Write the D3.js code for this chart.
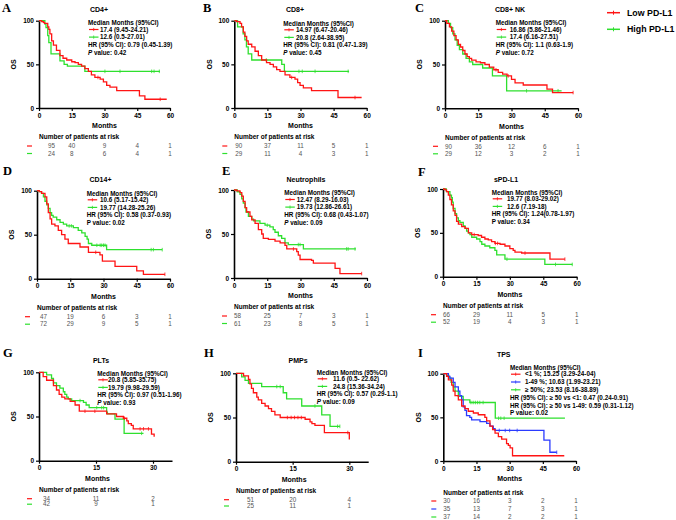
<!DOCTYPE html>
<head>
<meta charset="utf-8">
<script src="https://cdnjs.cloudflare.com/ajax/libs/d3/7.8.5/d3.min.js"></script>
<style>
body { margin:0; background:#fff; }
svg { display:block; font-family:"Liberation Sans", Arial, sans-serif; }
</style>
</head>
<body>
<svg width="676" height="520"></svg>
<script>
// KM step points [month, % surviving], plus censor times
var A_low  = [[0,100],[1.2,99],[2,98],[2.5,97],[4,93],[4.5,90],[5,85],[5.8,77],[6.6,72],[8,66],[9.6,60],[11,57],[12.7,55],[15,53],[16.5,52],[18,50],[19.5,48],[21,45],[22.6,42],[24,38],[25.6,35],[28,33],[29.5,30],[31,26],[32.5,24],[35.6,20],[46,14],[48.5,10],[58.5,10]];
var A_lowC = [27,55.5];
var A_high = [[0,100],[2.7,96],[3.2,92],[4,83],[4.5,75],[5.5,62],[9.6,54],[11.5,50],[13,48],[21,42],[55.4,42]];
var A_highC = [30.2,37.1,51.6,52.7,55.1];

var B_low  = [[0,100],[1,99],[2.6,97],[3.3,93],[4.1,87],[4.8,82],[5.6,77],[6.3,73],[7.9,70],[9.4,65],[10.9,60],[12.4,55],[14.6,52],[16.2,50],[17.7,47],[19.2,44],[20.7,42],[23,38],[25.2,35],[27.5,33],[28.7,29],[29.8,26],[31.3,23],[35,20],[47,12],[57.7,12]];
var B_lowC = [26,54.7];
var B_high = [[0,100],[1.5,93],[4,85],[4.8,78],[5.5,70],[6.3,62],[7.9,55],[21.5,50],[22.7,42],[52,42]];
var B_highC = [14.5,29.3,30.8,36.6,51.6];

var C_low  = [[0,100],[0.8,97],[2,93],[3,88],[4,83],[5,78],[6,73],[7,70],[8,66],[9,62],[10,59],[11,57],[12,55],[14,53],[16,52],[18,50],[20,47],[22,44],[24,41],[26,39],[28,37],[30,33],[31.6,29],[35.3,26.6],[46,22],[48.5,18],[57.8,18]];
var C_lowC = [23,28.5,57.8];
var C_high = [[0,100],[1.5,97],[2.5,92],[3.5,85],[4.5,78],[5.5,72],[6.5,67],[8,62],[9.5,57],[11,53],[12.5,50],[17,46],[21.4,37],[27.8,20],[52.6,20]];
var C_highC = [36.8,51];

var D_low  = [[0,100],[1,99],[2.1,97],[3.6,93],[4.4,85],[5.1,75],[5.9,68],[6.6,62],[8.1,60],[9.6,55],[11.1,50],[12.6,45],[14.1,40],[19.4,36],[23.2,30],[28.4,27],[29.5,20],[35.2,14],[45,9],[48,5],[57.7,5]];
var D_lowC = [26.5,57.7];
var D_high = [[0,100],[1,99],[2,97],[2.9,93],[3.6,88],[4.4,84],[5.1,80],[5.9,75],[6.6,72],[7.3,70],[8.9,67],[10.4,64],[11.9,62],[13.4,60],[16.4,58],[18.6,55],[20.2,52],[21.7,48],[22.6,45],[23.2,40],[24.7,38],[31.4,33],[56.5,33]];
var D_highC = [14.5,15.5,27,28.5,29.2,30,30.7,51.5,52.5,56.5];

var E_low  = [[0,100],[1.2,99],[2.7,97],[3.5,93],[4.2,87],[5,80],[5.7,75],[7.2,70],[8,66],[9.5,62],[11,55],[12.5,50],[13.2,45],[15.5,44],[18.5,42],[20.8,40],[23,37],[23.8,33],[28.3,30],[29,26],[29.8,21],[35,20],[35.8,17],[45.6,11],[47.8,5],[57.6,5]];
var E_lowC = [26.8,57.6];
var E_high = [[0,100],[1.5,98],[2.7,95],[3.5,90],[4.2,85],[5,80],[5.4,75],[6.5,70],[8,67],[8.8,65],[11.7,62],[14,60],[16.2,58],[17.7,55],[18.5,52],[20,48],[21.5,45],[23,40],[24.5,38],[31.3,33],[55,33]];
var E_highC = [15,29,29.8,50.8,51.5,54.6];

var F_low  = [[0,100],[0.9,99],[1.6,97],[2.4,93],[3.1,88],[3.8,82],[4.6,75],[5.4,70],[6.1,63],[6.9,60],[8.4,57],[9.9,55],[11.4,50],[12.9,48],[15.8,47],[17.3,45],[18.8,43],[20.3,42],[21.8,40],[23.3,38],[25.6,37],[27.8,35],[30,32],[31.5,30],[32.3,28],[35.3,27],[48,20],[54.7,20]];
var F_lowC = [14,23.5,24.5,36.8,54.7];
var F_high = [[0,100],[1.5,97],[3.1,93],[3.8,90],[4.2,85],[4.6,78],[5.4,72],[6.1,67],[6.9,64],[7.6,62],[9.1,58],[9.9,55],[10.6,52],[11.4,50],[12.1,48],[12.9,45],[15.1,43],[16.6,40],[17.4,37],[18.8,35],[21,33],[23.3,30],[24.1,25],[27.8,20],[45.7,14],[58.1,14]];
var F_highC = [28.7,50.5,58];

var G_low  = [[0,100],[1.1,95],[2,91],[3.8,85],[4.6,80],[5.3,75],[6,72],[6.8,70],[8.2,67],[9.5,63],[10.6,56],[17.8,53],[20.4,50],[22.2,48],[23.1,45],[23.5,42],[24.3,40],[24.8,36],[29.6,30],[30.3,27]];
var G_lowC = [12.1,14.7,22.5,26.6,27.5,28.8];
var G_high = [[0,100],[2,97],[3.3,93],[3.8,88],[4.6,85],[5.5,82],[6.4,78],[6.8,75],[7.3,72],[7.7,70],[8.6,68],[11.7,66],[12.4,63],[13.2,60],[17.8,55],[18,53],[20,47],[22.4,31],[27.5,31]];
var G_highC = [10.8,15.2,16.5,17,27];

var H_low  = [[0,100],[2,97],[3.3,93],[3.7,88],[4.1,83],[4.6,78],[5.5,73],[5.9,70],[6.8,66],[7.7,63],[8.6,60],[9.4,57],[10.3,53],[11.7,50],[18.3,48],[19.6,45],[20.1,43],[20.9,41],[23.4,33],[30,25]];
var H_lowC = [13.6,14.6,15.5,16.4,17.3,29.6];
var H_high = [[0,100],[1.5,96],[2.4,92],[3.3,88.5],[6.8,85],[12.5,78],[13.4,71],[17.4,63],[22.7,53],[24.9,40],[27.5,40]];
var H_highC = [10.8,11.7,20.9,26.9,27.5];

var I_lt1  = [[0,100],[1.5,97],[2.3,93],[3.8,87],[4.5,80],[5.3,75],[6.8,70],[8.3,63],[9.8,60],[11.3,57],[13.6,55],[15.8,53],[18.8,50],[19.6,46],[21.1,40],[22.3,36],[23.4,32],[24.9,28],[26.4,25],[28.6,20],[29.4,18],[30.2,15],[31.3,6],[54.7,6]];
var I_lt1C = [];
var I_mid  = [[0,100],[2.3,97],[3,95],[4.5,90],[5.3,85],[6.8,80],[7.5,75],[8.3,70],[9,62],[9.8,58],[10.5,52],[12,50],[12.8,47],[16.6,45],[19.6,43],[21.1,40],[22.6,37],[23.4,35],[45.5,24],[48.2,10],[51.3,10]];
var I_midC = [25.3,28,30,33.4,51.3];
var I_ge50 = [[0,100],[1.5,98],[2.5,95],[3.5,90],[4.5,85],[5.3,80],[6.8,74],[9,70],[12,67],[23.5,49],[55,49]];
var I_ge50C = [12.5,13.5,14.5,15.5,16.5,18,25,26,27.5];

// numbers at risk
var A_risk = [[95,40,9,4,1],[24,8,6,4,1]];
var B_risk = [[90,37,11,5,1],[29,11,4,3,1]];
var C_risk = [[90,36,12,6,1],[29,12,3,2,1]];
var D_risk = [[47,19,6,3,1],[72,29,9,5,1]];
var E_risk = [[58,25,7,3,1],[61,23,8,5,1]];
var F_risk = [[66,29,11,5,1],[52,19,4,3,1]];
var G_risk = [[34,11,2],[42,9,1]];
var H_risk = [[51,20,4],[25,11,1]];
var I_risk = [[30,16,3,2,1],[35,13,7,3,1],[37,14,2,2,1]];

// annotation texts
var A_text = ["17.4 (9.45-24.21)","12.6 (0.5-27.01)","HR (95% CI): 0.79 (0.45-1.39)","0.42"];
var B_text = ["14.97 (6.47-20.46)","20.8 (2.64-38.95)","HR (95% CI): 0.81 (0.47-1.39)","0.45"];
var C_text = ["16.86  (5.86-21.46)","17.4 (6.16-27.51)","HR (95% CI): 1.1 (0.63-1.9)","0.72"];
var D_text = ["10.6 (5.17-15.42)","19.77 (14.28-25.26)","HR (95% CI): 0.58 (0.37-0.93)","0.02"];
var E_text = ["12.47 (8.29-16.03)","19.73 (12.86-26.61)","HR (95% CI): 0.68 (0.43-1.07)","0.09"];
var F_text = ["19.77 (8.03-29.02)","12.6 (7.19-18)","HR (95% CI): 1.24(0.78-1.97)","0.34"];
var G_text = ["20.8 (5.85-35.75)","19.79 (9.98-29.59)","HR (95% CI): 0.97 (0.51-1.96)","0.93"];
var H_text = ["11.6 (0.5- 22.62)","24.8  (15.36-34.24)","HR (95% CI): 0.57 (0.29-1.1)","0.09"];
var I_text = ["<1 %; 15.25 (3.29-24-04)","1-49 %; 10.63 (1.99-23.21)","\u2265 50%; 23.53 (8.16-38.89)","HR (95% CI): \u2265 50 vs <1: 0.47 (0.24-0.91)","HR (95% CI): \u2265 50 vs 1-49: 0.59 (0.31-1.12)","0.02"];

var ticks60 = [0,15,30,45,60];
var ticks30 = [0,15,30];
var legendLabels = ["Low PD-L1","High PD-L1"];

var RED = "#ff1414", GREEN = "#2ee02e", BLUE = "#2b3bff";

// layout of the 9 panels
var panels = [
  {L:"A",lx:2,ly:12,  title:"CD4+",tx:99,ty:9.5,  x0:39,x1:170,yTop:20.7,yBot:108,xMax:60,ticks:ticks60, ax:88,ay:23,toff:12,  rOff:9,
   curves:[[A_low,A_lowC,RED],[A_high,A_highC,GREEN]], risk:A_risk, text:A_text, pItal:true, nLeg:2},
  {L:"B",lx:203,ly:12,title:"CD8+",tx:295,ty:9.5, x0:234.3,x1:366.7,yTop:20.7,yBot:108,xMax:60,ticks:ticks60, ax:283.3,ay:23.3,toff:12.7, rOff:1,
   curves:[[B_low,B_lowC,RED],[B_high,B_highC,GREEN]], risk:B_risk, text:B_text, pItal:true, nLeg:2},
  {L:"C",lx:415,ly:12,title:"CD8+ NK",tx:510,ty:9.5, x0:445,x1:578,yTop:20.7,yBot:108.3,xMax:60,ticks:ticks60, ax:495.7,ay:23,toff:14, rOff:0,
   curves:[[C_low,C_lowC,RED],[C_high,C_highC,GREEN]], risk:C_risk, text:C_text, pItal:true, nLeg:2},
  {L:"D",lx:3,ly:175, title:"CD14+",tx:100.5,ty:180, x0:37,x1:170,yTop:190.7,yBot:278.7,xMax:60,ticks:ticks60, ax:86.7,ay:193.3,toff:13.3, rOff:3,
   curves:[[D_low,D_lowC,RED],[D_high,D_highC,GREEN]], risk:D_risk, text:D_text, pItal:false, nLeg:2},
  {L:"E",lx:222,ly:175,title:"Neutrophils",tx:306,ty:180, x0:234,x1:367,yTop:190,yBot:278,xMax:60,ticks:ticks60, ax:284.3,ay:193,toff:12.4, rOff:0,
   curves:[[E_low,E_lowC,RED],[E_high,E_highC,GREEN]], risk:E_risk, text:E_text, pItal:true, nLeg:2},
  {L:"F",lx:418,ly:176,title:"sPD-L1",tx:506,ty:180, x0:443,x1:576.7,yTop:189,yBot:276.7,xMax:60,ticks:ticks60, ax:491.7,ay:192.3,toff:15.3, rOff:0,
   curves:[[F_low,F_lowC,RED],[F_high,F_highC,GREEN]], risk:F_risk, text:F_text, pItal:false, nLeg:2},
  {L:"G",lx:3,ly:357, title:"PLTs",tx:101,ty:360.7, x0:39,x1:172,yTop:372.3,yBot:460.7,xMax:35,ticks:ticks30, ax:97.3,ay:373.3,toff:10.7, rOff:4, rGap:5.5,
   curves:[[G_low,G_lowC,RED],[G_high,G_highC,GREEN]], risk:G_risk, text:G_text, pItal:true, nLeg:2},
  {L:"H",lx:204,ly:357,title:"PMPs",tx:298,ty:360.7, x0:236,x1:368.2,yTop:373.3,yBot:461.7,xMax:35,ticks:ticks30, ax:316.7,ay:372.3,toff:16.3, rOff:11, rGap:6.3,
   curves:[[H_low,H_lowC,RED],[H_high,H_highC,GREEN]], risk:H_risk, text:H_text, pItal:true, nLeg:2},
  {L:"I",lx:418,ly:357,title:"TPS",tx:503.7,ty:355, x0:443.3,x1:576,yTop:373.7,yBot:461,xMax:60,ticks:ticks60, ax:510,ay:367.7,toff:15, rOff:0, rGap:8, aRow:7.8, rTitle:31.7, rRow0:40,
   curves:[[I_lt1,I_lt1C,RED],[I_mid,I_midC,BLUE],[I_ge50,I_ge50C,GREEN]], risk:I_risk, text:I_text, pItal:false, nLeg:3}
];

var svg = d3.select("svg");

function survAt(pts, t){
  var s = pts[0][1];
  pts.forEach(function(d){ if (d[0] <= t) s = d[1]; });
  return s;
}

function drawPanel(p){
  var x = d3.scaleLinear().domain([0, p.xMax]).range([p.x0, p.x1]);
  var y = d3.scaleLinear().domain([0, 100]).range([p.yBot, p.yTop]);
  var g = svg.append("g");

  g.append("text").attr("x", p.lx).attr("y", p.ly)
    .attr("font-family", "'Liberation Serif', 'Times New Roman', serif")
    .attr("font-weight", "bold").attr("font-size", 12.5).text(p.L);

  g.append("text").attr("x", p.tx).attr("y", p.ty).attr("dy", "0.35em")
    .attr("text-anchor", "middle").attr("font-weight", "bold").attr("font-size", 7).text(p.title);

  var ax = g.append("g").attr("transform", "translate(0," + p.yBot + ")")
    .call(d3.axisBottom(x).tickValues(p.ticks).tickSize(3).tickSizeOuter(0).tickPadding(2));
  var ay = g.append("g").attr("transform", "translate(" + p.x0 + ",0)")
    .call(d3.axisLeft(y).tickValues([0, 50, 100]).tickSize(3).tickSizeOuter(0).tickPadding(2));
  [ax, ay].forEach(function(a){
    a.attr("font-family", null).attr("font-size", 6.5).attr("font-weight", "bold");
    a.select(".domain").attr("stroke-width", 1.6);
    a.selectAll(".tick line").attr("stroke-width", 1.2);
    a.selectAll(".tick text").attr("fill", "#000");
  });

  g.append("text")
    .attr("transform", "translate(" + (p.x0 - 25) + "," + ((p.yTop + p.yBot) / 2) + ") rotate(-90)")
    .attr("text-anchor", "middle").attr("dy", "0.35em")
    .attr("font-weight", "bold").attr("font-size", 7).text("OS");

  g.append("text").attr("x", (p.x0 + p.x1) / 2 - (p.xMax < 60 ? 8 : 0)).attr("y", p.yBot + 18).attr("dy", "0.35em")
    .attr("text-anchor", "middle").attr("font-weight", "bold").attr("font-size", 7).text("Months");

  // curves (last group drawn first so red sits on top)
  var line = d3.line().x(function(d){ return x(d[0]); }).y(function(d){ return y(d[1]); }).curve(d3.curveStepAfter);
  p.curves.slice().reverse().forEach(function(c){
    var pts = c[0], cens = c[1], col = c[2];
    g.append("path").attr("d", line(pts)).attr("fill", "none")
      .attr("stroke", col).attr("stroke-width", 1.3);
    g.selectAll(null).data(cens).enter().append("line")
      .attr("x1", function(t){ return x(t); }).attr("x2", function(t){ return x(t); })
      .attr("y1", function(t){ return y(survAt(pts, t)) - 1.8; })
      .attr("y2", function(t){ return y(survAt(pts, t)) + 1.8; })
      .attr("stroke", col).attr("stroke-width", 0.8);
  });

  // median / HR block
  var aRow = p.aRow || 7.6;
  var a = g.append("g").attr("font-size", 6.3).attr("font-weight", "bold");
  a.append("text").attr("x", p.ax).attr("y", p.ay).attr("dy", "0.35em").text("Median Months (95%CI)");
  p.text.forEach(function(t, i){
    var yy = p.ay + 6.5 + i * aRow;
    if (i < p.nLeg) {
      var col = p.curves[i][2];
      a.append("line").attr("x1", p.ax + 1).attr("x2", p.ax + 10.5).attr("y1", yy).attr("y2", yy)
        .attr("stroke", col).attr("stroke-width", 1.2);
      a.append("line").attr("x1", p.ax + 5.7).attr("x2", p.ax + 5.7).attr("y1", yy - 1.6).attr("y2", yy + 1.6)
        .attr("stroke", col).attr("stroke-width", 0.8);
      a.append("text").attr("x", p.ax + p.toff).attr("y", yy).attr("dy", "0.35em").text(t);
    } else if (i < p.text.length - 1) {
      a.append("text").attr("x", p.ax).attr("y", yy).attr("dy", "0.35em").text(t);
    } else {
      var pt = a.append("text").attr("x", p.ax).attr("y", yy).attr("dy", "0.35em");
      pt.append("tspan").attr("font-style", p.pItal ? "italic" : null).text("P");
      pt.append("tspan").text(" value: " + t);
    }
  });

  // numbers at risk
  var rTitle = p.rTitle || 29, rRow0 = p.rRow0 || 38, rGap = p.rGap || 7.5;
  g.append("text").attr("x", p.x0).attr("y", p.yBot + rTitle).attr("dy", "0.35em")
    .attr("font-weight", "bold").attr("font-size", 6.5).text("Number of patients at risk");
  p.risk.forEach(function(row, i){
    var ry = p.yBot + rRow0 + i * rGap;
    var col = p.curves[i][2];
    g.append("line").attr("x1", p.x0 - 12).attr("x2", p.x0 - 7).attr("y1", ry).attr("y2", ry)
      .attr("stroke", col).attr("stroke-width", 1.2);
    row.forEach(function(n, j){
      g.append("text")
        .attr("x", j === 0 ? p.x0 + p.rOff : x(p.ticks[j]))
        .attr("text-anchor", j === 0 ? "start" : "middle")
        .attr("y", ry).attr("dy", "0.35em")
        .attr("font-size", 6.3).attr("fill", "#555").text(n);
    });
  });
}

panels.forEach(drawPanel);

// group legend, top right
var leg = svg.append("g").attr("font-size", 8.8).attr("font-weight", "bold");
[RED, GREEN].forEach(function(col, i){
  var yy = 12.7 + i * 16.6;
  leg.append("line").attr("x1", 607).attr("x2", 620).attr("y1", yy).attr("y2", yy)
    .attr("stroke", col).attr("stroke-width", 1.5);
  leg.append("line").attr("x1", 613.5).attr("x2", 613.5).attr("y1", yy - 2).attr("y2", yy + 2)
    .attr("stroke", col).attr("stroke-width", 1);
  leg.append("text").attr("x", 627).attr("y", yy).attr("dy", "0.35em").text(legendLabels[i]);
});
</script>
</body>
